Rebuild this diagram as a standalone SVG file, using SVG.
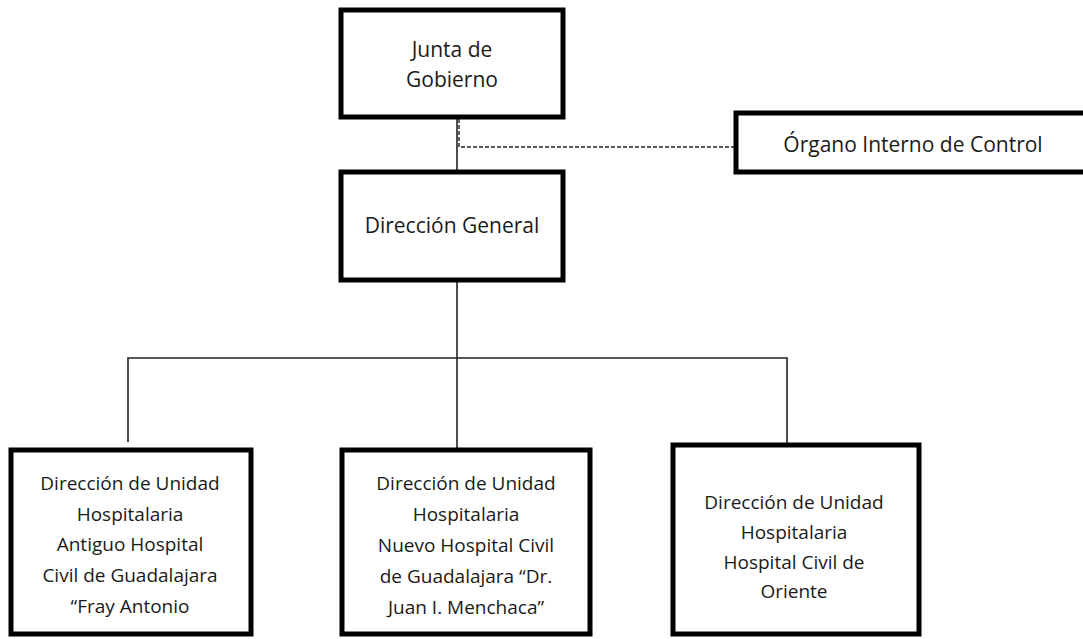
<svg xmlns="http://www.w3.org/2000/svg" width="1083" height="639" viewBox="0 0 1083 639">
<style>
.box{fill:#fff;stroke:#000;stroke-width:5}
.t{font-family:"Open Sans","Noto Sans",sans-serif;fill:#1a1a1a;text-anchor:middle}
.big{font-size:21px}
.sm{font-size:19px}
.ln{fill:none;stroke:#222;stroke-width:1.6}
.dash{fill:none;stroke:#222;stroke-width:1.4;stroke-dasharray:4 2}
</style>
<rect width="1083" height="639" fill="#fff"/>
<g id="connectors">
<line class="ln" x1="457" y1="117" x2="457" y2="172"/>
<path class="dash" d="M459,119 V147 H736"/>
<line class="ln" x1="457" y1="280" x2="457" y2="450"/>
<path class="ln" d="M128,442 V358 H787 V445"/>
</g>
<g id="junta">
<rect class="box" x="341" y="10" width="222" height="107"/>
<text class="t big" x="452" y="57">Junta de</text>
<text class="t big" x="452" y="87">Gobierno</text>
</g>
<g id="organo">
<rect class="box" x="736" y="113" width="360" height="59"/>
<text class="t big" x="913" y="152">Órgano Interno de Control</text>
</g>
<g id="direccion-general">
<rect class="box" x="341" y="172" width="222" height="108"/>
<text class="t big" x="452" y="233">Dirección General</text>
</g>
<g id="antiguo">
<rect class="box" x="11" y="450" width="240" height="184"/>
<text class="t sm" x="130" y="490">Dirección de Unidad</text>
<text class="t sm" x="130" y="521">Hospitalaria</text>
<text class="t sm" x="130" y="551">Antiguo Hospital</text>
<text class="t sm" x="130" y="582">Civil de Guadalajara</text>
<text class="t sm" x="130" y="613">“Fray Antonio</text>
</g>
<g id="nuevo">
<rect class="box" x="342" y="450" width="248" height="184"/>
<text class="t sm" x="466" y="490">Dirección de Unidad</text>
<text class="t sm" x="466" y="521">Hospitalaria</text>
<text class="t sm" x="466" y="552">Nuevo Hospital Civil</text>
<text class="t sm" x="466" y="583">de Guadalajara “Dr.</text>
<text class="t sm" x="466" y="614">Juan I. Menchaca”</text>
</g>
<g id="oriente">
<rect class="box" x="673" y="445" width="246" height="189"/>
<text class="t sm" x="794" y="509">Dirección de Unidad</text>
<text class="t sm" x="794" y="539">Hospitalaria</text>
<text class="t sm" x="794" y="569">Hospital Civil de</text>
<text class="t sm" x="794" y="598">Oriente</text>
</g>
</svg>
